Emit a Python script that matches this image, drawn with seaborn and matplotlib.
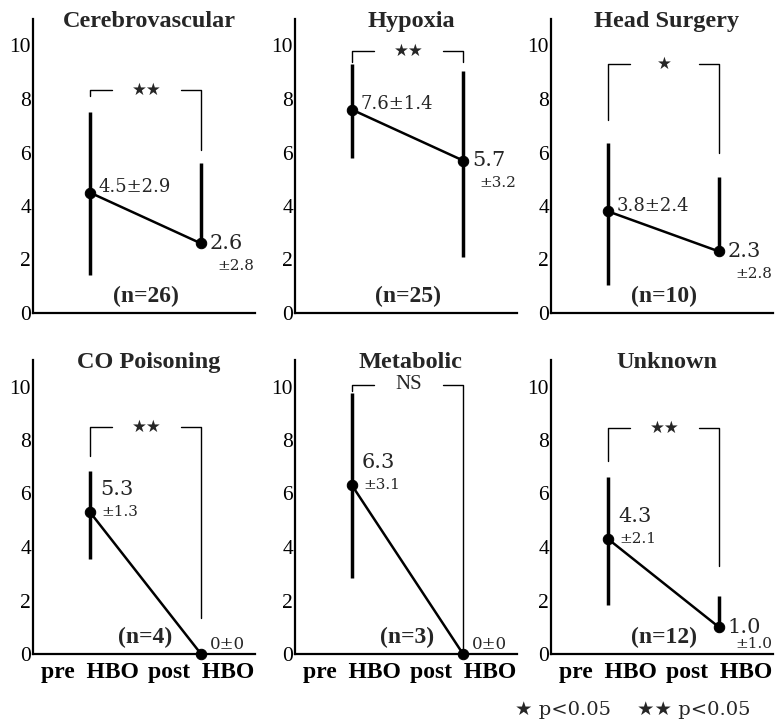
import matplotlib
matplotlib.use("Agg")
import matplotlib.pyplot as plt
import numpy as np
import pandas as pd
import seaborn as sns

# ---------------- data ----------------
categories = ["Cerebrovascular", "Hypoxia", "Head Surgery",
              "CO Poisoning", "Metabolic", "Unknown"]
pre_mean = [4.5, 7.6, 3.8, 5.3, 6.3, 4.3]
pre_sd = [2.9, 1.4, 2.4, 1.3, 3.1, 2.1]
post_mean = [2.6, 5.7, 2.3, 0.0, 0.0, 1.0]
post_sd = [2.8, 3.2, 2.8, 0.0, 0.0, 1.0]
n_cases = [26, 25, 10, 4, 3, 12]
significance = ["★★", "★★", "★", "★★", "NS", "★★"]
# error bar extents as drawn in the figure
pre_bar_low = [1.42, 5.8, 1.05, 3.57, 2.83, 1.82]
pre_bar_high = [7.5, 9.3, 6.35, 6.84, 9.74, 6.62]
post_bar_low = [2.6, 2.1, 2.3, 0.0, 0.0, 1.0]
post_bar_high = [5.6, 9.06, 5.1, 0.0, 0.0, 2.16]
# significance brackets: height, left drop end, right drop end
bracket_y = [8.35, 9.8, 9.3, 8.5, 10.07, 8.44]
bracket_left_end = [8.1, 9.4, 7.2, 7.4, 9.85, 7.2]
bracket_right_end = [6.1, 9.4, 6.0, 1.35, 0.15, 3.3]
x_labels = ["pre  HBO", "post  HBO"]
y_ticks = [0, 2, 4, 6, 8, 10]

# ---------------- style ----------------
sns.set_theme(style="white")
plt.rcParams["font.family"] = ["Liberation Serif", "DejaVu Serif", "DejaVu Sans"]

W, H = 778, 724
fig = plt.figure(figsize=(W / 100, H / 100), dpi=100)

col_left = [33, 295, 551]
row_bottom = [313, 654]
ax_w = 222
ax_h = 11 * 26.75

num_font = ["DejaVu Serif", "DejaVu Sans"]
star_font = ["DejaVu Sans"]

for i, cat in enumerate(categories):
    r, c = divmod(i, 3)
    ax = fig.add_axes([col_left[c] / W, (H - row_bottom[r]) / H, ax_w / W, ax_h / H])

    df = pd.DataFrame({"phase": [1, 2], "score": [pre_mean[i], post_mean[i]]})

    # error bars
    ax.vlines([1], [pre_bar_low[i]], [pre_bar_high[i]], color="black", lw=2.5, zorder=2)
    if post_bar_high[i] > post_bar_low[i]:
        ax.vlines([2], [post_bar_low[i]], [post_bar_high[i]], color="black", lw=2.5, zorder=2)

    sns.lineplot(data=df, x="phase", y="score", ax=ax, color="black", lw=1.8,
                 marker="o", markersize=7.5, markeredgecolor="black", zorder=3)
    for ln in ax.lines:
        ln.set_clip_on(False)

    # bracket
    by = bracket_y[i]
    ax.plot([1, 1, 1.2], [bracket_left_end[i], by, by], color="black", lw=1.0, clip_on=False)
    ax.plot([1.82, 2, 2], [by, by, bracket_right_end[i]], color="black", lw=1.0, clip_on=False)
    if significance[i] == "NS":
        ax.text(1.51, by, "NS", ha="center", va="center", fontsize=15,
                family=["Liberation Serif"])
    else:
        ax.text(1.51, by, significance[i], ha="center", va="center", fontsize=12,
                family=star_font)

    # value labels
    if r == 0:
        ax.text(1.08, pre_mean[i] + 0.2, f"{pre_mean[i]:.1f}±{pre_sd[i]:.1f}",
                ha="left", va="center", fontsize=13, family=num_font)
    else:
        ax.text(1.09, pre_mean[i] + 0.85, f"{pre_mean[i]:.1f}",
                ha="left", va="center", fontsize=15, family=num_font)
        ax.text(1.10, pre_mean[i], f"±{pre_sd[i]:.1f}",
                ha="left", va="center", fontsize=11, family=num_font)
    if post_mean[i] == 0:
        ax.text(2.08, 0.37, "0±0", ha="left", va="center", fontsize=12, family=num_font)
    else:
        ax.text(2.08, post_mean[i], f"{post_mean[i]:.1f}",
                ha="left", va="center", fontsize=15, family=num_font)
        ax.text(2.15, max(post_mean[i] - 0.85, 0.38), f"±{post_sd[i]:.1f}",
                ha="left", va="center", fontsize=11, family=num_font)

    # n label
    ax.text(1.5, 0.6, f"(n={n_cases[i]})", ha="center", va="center",
            fontsize=17, fontweight="bold")

    # title
    ax.text(1.53, 10.9, cat, ha="center", va="center", fontsize=17.5, fontweight="bold")

    ax.set_xlim(0.486, 2.486)
    ax.set_ylim(0, 11)
    ax.set_yticks(y_ticks)
    ax.set_yticklabels([str(t) for t in y_ticks], fontsize=15.5)
    ax.set_xticks([1, 2])
    if r == 1:
        ax.set_xticklabels(x_labels, fontsize=17, fontweight="bold")
    else:
        ax.set_xticklabels([])
    ax.set_xlabel("")
    ax.set_ylabel("")
    ax.tick_params(axis="both", length=0, pad=1.5, colors="black")
    ax.tick_params(axis="x", pad=6)
    sns.despine(ax=ax)
    for s in ("left", "bottom"):
        ax.spines[s].set_color("black")
        ax.spines[s].set_linewidth(1.6)
    ax.patch.set_alpha(0)

fig.text(515 / W, 1 - 710 / H, "★ p<0.05", ha="left", va="center", fontsize=14,
         family=["DejaVu Serif", "DejaVu Sans"])
fig.text(637 / W, 1 - 710 / H, "★★ p<0.05", ha="left", va="center", fontsize=14,
         family=["DejaVu Serif", "DejaVu Sans"])

fig.savefig("out.png", dpi=100, facecolor="white")
